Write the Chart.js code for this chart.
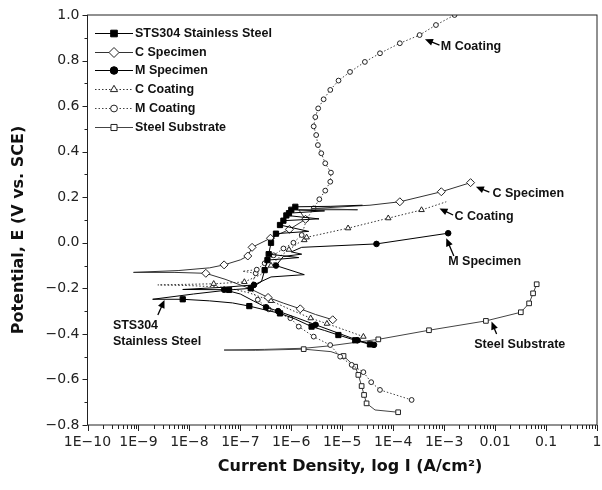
<!DOCTYPE html>
<html>
<head>
<meta charset="utf-8">
<script src="https://cdn.jsdelivr.net/npm/chart.js@4.4.1/dist/chart.umd.min.js"></script>
<style>
  html, body { margin: 0; padding: 0; background: #fff; }
  canvas { display: block; }
</style>
</head>
<body>
<canvas id="polChart" width="602" height="490"></canvas>
<script>
// axis ticks
const xTickValues = [1e-10, 1e-9, 1e-8, 1e-7, 1e-6, 1e-5, 1e-4, 1e-3, 0.01, 0.1, 1];
const xTickLabels = ['1E\u221210', '1E\u22129', '1E\u22128', '1E\u22127', '1E\u22126', '1E\u22125', '1E\u22124', '1E\u22123', '0.01', '0.1', '1'];
const yTickValues = [-0.8, -0.6, -0.4, -0.2, 0, 0.2, 0.4, 0.6, 0.8, 1.0];
const yTickLabels = ['\u22120.8', '\u22120.6', '\u22120.4', '\u22120.2', '0.0', '0.2', '0.4', '0.6', '0.8', '1.0'];

// STS304 stainless steel: current (A/cm2) and potential (V vs SCE)
const stsCurrent = [3.5e-5, 1.8e-5, 8.4e-6, 4.5e-6, 2.5e-6, 1.2e-6, 6e-7, 3.1e-7, 1.5e-7, 7e-8, 2.5e-8, 7.4e-9, 1.9e-9,
  1.2e-8, 6e-8, 1.6e-7, 2.6e-7, 3.0e-7, 3.4e-7, 1.4e-6, 3.6e-7, 4.0e-7, 5.0e-7, 2.2e-6, 6.0e-7, 7.0e-7, 3.5e-6,
  8.0e-7, 9.0e-7, 4.5e-6, 1.0e-6, 1.2e-6, 6.0e-6, 2.5e-5];
const stsPotential = [-0.446, -0.428, -0.405, -0.385, -0.368, -0.335, -0.31, -0.295, -0.278, -0.264, -0.255, -0.248, -0.248,
  -0.225, -0.207, -0.2, -0.17, -0.12, -0.076, -0.065, -0.05, 0.0, 0.04, 0.05, 0.078, 0.097, 0.105,
  0.12, 0.13, 0.14, 0.145, 0.158, 0.16, 0.165];

// C specimen
const cSpecCurrent = [6.5e-6, 3.0e-6, 1.5e-6, 7.0e-7, 3.5e-7, 1.5e-7, 5.0e-8, 2.1e-8, 5.0e-9, 8.0e-10, 6.0e-9, 2.5e-8,
  4.8e-8, 1.0e-7, 1.4e-7, 1.7e-7, 3.9e-7, 9.2e-7, 1.9e-6, 1.4e-6, 2.0e-5, 2.5e-6, 3.5e-5, 1.35e-4, 8.8e-4, 3.3e-3];
const cSpecPotential = [-0.338, -0.315, -0.29, -0.265, -0.24, -0.2, -0.16, -0.134, -0.13, -0.13, -0.122, -0.11,
  -0.097, -0.075, -0.058, -0.02, 0.02, 0.059, 0.103, 0.145, 0.145, 0.15, 0.165, 0.18, 0.224, 0.264];

// M specimen
const mSpecCurrent = [4.2e-5, 2.0e-5, 8.0e-6, 3.0e-6, 1.3e-6, 5.5e-7, 3.2e-7, 1.8e-7, 1.0e-7, 4.8e-8, 7.4e-9,
  5.0e-8, 1.85e-7, 4.0e-7, 1.8e-6, 5.0e-7, 7.0e-7, 1.6e-6, 1.0e-6, 1.6e-6, 4.7e-5, 1.2e-3];
const mSpecPotential = [-0.448, -0.428, -0.395, -0.36, -0.33, -0.3, -0.283, -0.255, -0.225, -0.206, -0.205,
  -0.195, -0.185, -0.15, -0.14, -0.1, -0.06, -0.05, -0.04, -0.02, -0.005, 0.042];

// C coating
const cCoatCurrent = [2.6e-5, 1.2e-5, 5.0e-6, 2.4e-6, 1.0e-6, 4.0e-7, 1.5e-7, 5.0e-8, 1.0e-8, 2.4e-9, 3.0e-8, 1.2e-7,
  2.5e-7, 4.0e-7, 6.0e-7, 9.0e-7, 1.4e-6, 1.8e-6, 2.0e-6, 1.3e-5, 8.0e-5, 3.6e-4, 1.1e-3];
const cCoatPotential = [-0.412, -0.385, -0.355, -0.331, -0.295, -0.255, -0.22, -0.195, -0.188, -0.185, -0.18, -0.172,
  -0.14, -0.1, -0.06, -0.03, 0.0, 0.012, 0.024, 0.064, 0.108, 0.144, 0.18];

// M coating
const mCoatCurrent = [2.3e-4, 5.5e-5, 3.7e-5, 2.6e-5, 1.53e-5, 9.1e-6, 5.8e-6, 2.75e-6, 1.4e-6, 9.6e-7, 3.6e-7, 2.2e-7,
  1.6e-7, 2.0e-7, 1.1e-7, 2.1e-7, 3.0e-7, 4.5e-7, 7.0e-7, 1.1e-6, 1.6e-6, 2.0e-6, 2.75e-6, 3.55e-6, 4.64e-6,
  5.82e-6, 6.0e-6, 4.64e-6, 3.88e-6, 3.33e-6, 3.08e-6, 2.75e-6, 2.96e-6, 3.37e-6, 4.31e-6, 5.82e-6, 8.45e-6,
  1.42e-5, 2.78e-5, 5.5e-5, 1.35e-4, 3.3e-4, 6.9e-4, 1.6e-3];
const mCoatPotential = [-0.69, -0.646, -0.612, -0.568, -0.536, -0.5, -0.449, -0.412, -0.368, -0.331, -0.292, -0.25,
  -0.2, -0.134, -0.125, -0.118, -0.09, -0.055, -0.025, 0.0, 0.034, 0.104, 0.151, 0.191, 0.229,
  0.268, 0.308, 0.349, 0.393, 0.429, 0.473, 0.511, 0.552, 0.59, 0.63, 0.671, 0.712,
  0.75, 0.794, 0.832, 0.876, 0.912, 0.956, 1.0];

// steel substrate
const steelCurrent = [1.25e-4, 4.4e-5, 3.0e-5, 2.68e-5, 2.4e-5, 2.07e-5, 1.79e-5, 1.06e-5, 6.0e-6, 1.75e-6, 2.0e-7,
  4.8e-8, 3.0e-7, 1.8e-6, 5.4e-6, 5.1e-5, 5.04e-4, 6.6e-3, 3.2e-2, 4.65e-2, 5.56e-2, 6.55e-2];
const steelPotential = [-0.744, -0.734, -0.705, -0.668, -0.629, -0.58, -0.544, -0.497, -0.478, -0.467, -0.472,
  -0.471, -0.468, -0.463, -0.453, -0.424, -0.384, -0.343, -0.305, -0.266, -0.222, -0.182];

const pairs = (xs, ys) => xs.map((x, i) => ({ x: x, y: ys[i] }));

// labels with arrows, placed in data coordinates
const callouts = [
  { lines: ['M Coating'], at: [8.6e-4, 0.861], tip: [4.2e-4, 0.893], tail: [8.1e-4, 0.868] },
  { lines: ['C Specimen'], at: [8.9e-3, 0.217], tip: [4.2e-3, 0.246], tail: [7.7e-3, 0.222] },
  { lines: ['C Coating'], at: [1.6e-3, 0.115], tip: [8.1e-4, 0.151], tail: [1.5e-3, 0.122] },
  { lines: ['M Specimen'], at: [1.2e-3, -0.083], tip: [1.1e-3, 0.02], tail: [1.55e-3, -0.058] },
  { lines: ['Steel Substrate'], at: [3.9e-3, -0.446], tip: [8.5e-3, -0.346], tail: [1.07e-2, -0.40] },
  { lines: ['STS304', 'Stainless Steel'], at: [3.15e-10, -0.365], tip: [3.25e-9, -0.251], tail: [2.4e-9, -0.317] }
];

const labelFont = "bold 12.5px 'Liberation Sans', Arial, sans-serif";

const frameAndDecor = {
  id: 'frameAndDecor',
  afterDatasetsDraw(chart) {
    const { ctx, chartArea: a, scales: { x, y } } = chart;
    ctx.save();
    // frame
    ctx.strokeStyle = '#222';
    ctx.lineWidth = 1;
    ctx.strokeRect(a.left, a.top, a.right - a.left, a.bottom - a.top);

    // tick marks
    ctx.beginPath();
    for (let e = -10; e <= 0; e++) {
      for (let k = 1; k <= 9; k++) {
        const v = k * Math.pow(10, e);
        if (v > 1.0000001) break;
        const px = Math.round(x.getPixelForValue(v)) + 0.5;
        ctx.moveTo(px, a.bottom);
        ctx.lineTo(px, a.bottom + (k === 1 ? 6 : 4));
      }
    }
    for (let i = 0; i <= 18; i++) {
      const v = -0.8 + i * 0.1;
      const py = Math.round(y.getPixelForValue(v)) + 0.5;
      ctx.moveTo(a.left, py);
      ctx.lineTo(a.left - (i % 2 === 0 ? 5 : 3), py);
    }
    ctx.stroke();

    // axis titles
    ctx.fillStyle = '#111';
    ctx.font = "bold 16px 'DejaVu Sans', sans-serif";
    ctx.textAlign = 'center';
    ctx.textBaseline = 'middle';
    ctx.fillText('Current Density, log I (A/cm\u00B2)', 350, 467);
    ctx.save();
    ctx.translate(19, 230);
    ctx.rotate(-Math.PI / 2);
    ctx.fillText('Potential, E (V vs. SCE)', 0, 0);
    ctx.restore();

    // legend
    ctx.font = labelFont;
    ctx.textAlign = 'left';
    chart.data.datasets.forEach((ds, i) => {
      const cy = Math.round(33 + i * 18.7) + 0.5;
      ctx.save();
      ctx.strokeStyle = ds.borderColor;
      ctx.lineWidth = 1;
      ctx.setLineDash(ds.borderDash || []);
      ctx.beginPath();
      ctx.moveTo(95, cy);
      ctx.lineTo(133, cy);
      ctx.stroke();
      ctx.setLineDash([]);
      ctx.fillStyle = ds.pointBackgroundColor;
      ctx.strokeStyle = ds.pointBorderColor;
      ctx.lineWidth = 1;
      Chart.helpers.drawPoint(ctx, { pointStyle: ds.pointStyle, radius: ds.markSize + 1, rotation: 0, borderWidth: 1 }, 114, cy);
      ctx.restore();
      ctx.fillStyle = '#111';
      ctx.fillText(ds.label, 135, cy);
    });

    // callouts with arrows
    callouts.forEach(c => {
      const tx = x.getPixelForValue(c.tip[0]), ty = y.getPixelForValue(c.tip[1]);
      const sx = x.getPixelForValue(c.tail[0]), sy = y.getPixelForValue(c.tail[1]);
      const ang = Math.atan2(ty - sy, tx - sx);
      ctx.strokeStyle = '#000';
      ctx.fillStyle = '#000';
      ctx.lineWidth = 1.3;
      ctx.beginPath();
      ctx.moveTo(sx, sy);
      ctx.lineTo(tx - 5 * Math.cos(ang), ty - 5 * Math.sin(ang));
      ctx.stroke();
      ctx.beginPath();
      ctx.moveTo(tx, ty);
      ctx.lineTo(tx - 8 * Math.cos(ang) + 3.5 * Math.sin(ang), ty - 8 * Math.sin(ang) - 3.5 * Math.cos(ang));
      ctx.lineTo(tx - 8 * Math.cos(ang) - 3.5 * Math.sin(ang), ty - 8 * Math.sin(ang) + 3.5 * Math.cos(ang));
      ctx.closePath();
      ctx.fill();
      const lx = x.getPixelForValue(c.at[0]), ly = y.getPixelForValue(c.at[1]);
      ctx.fillStyle = '#111';
      c.lines.forEach((t, j) => ctx.fillText(t, lx, ly + j * 15.7));
    });
    ctx.restore();
  }
};

const datasets = [
  { label: 'STS304 Stainless Steel', data: pairs(stsCurrent, stsPotential),
    borderColor: '#000', pointStyle: 'rect', markSize: 3.7, pointBackgroundColor: '#000', pointBorderColor: '#000',
    borderDash: [], plain: [3, 5, 7, 9, 10, 12, 13, 16, 19, 23, 26, 29, 32, 33] },
  { label: 'C Specimen', data: pairs(cSpecCurrent, cSpecPotential),
    borderColor: '#333', pointStyle: 'rectRot', markSize: 4, pointBackgroundColor: '#fff', pointBorderColor: '#222',
    borderDash: [], plain: [1, 3, 5, 6, 8, 9, 10, 11, 13, 19, 20, 21, 22] },
  { label: 'M Specimen', data: pairs(mSpecCurrent, mSpecPotential),
    borderColor: '#000', pointStyle: 'circle', markSize: 2.8, pointBackgroundColor: '#000', pointBorderColor: '#000',
    borderDash: [], plain: [2, 4, 7, 8, 10, 11, 13, 14, 16, 17, 18, 19] },
  { label: 'C Coating', data: pairs(cCoatCurrent, cCoatPotential),
    borderColor: '#333', pointStyle: 'triangle', markSize: 3.2, pointBackgroundColor: '#fff', pointBorderColor: '#222',
    borderDash: [1.5, 2], plain: [1, 4, 6, 7, 8, 9, 12, 14, 16, 22] },
  { label: 'M Coating', data: pairs(mCoatCurrent, mCoatPotential),
    borderColor: '#444', pointStyle: 'circle', markSize: 2.4, pointBackgroundColor: '#fff', pointBorderColor: '#222',
    borderDash: [1.5, 2], plain: [14] },
  { label: 'Steel Substrate', data: pairs(steelCurrent, steelPotential),
    borderColor: '#444', pointStyle: 'rect', markSize: 3.3, pointBackgroundColor: '#fff', pointBorderColor: '#222',
    borderDash: [], plain: [1, 8, 10, 11, 12, 13, 14] }
];

new Chart(document.getElementById('polChart'), {
  type: 'scatter',
  data: { datasets: datasets.map(d => Object.assign({ showLine: true, borderWidth: 1, pointBorderWidth: 1 }, d)) },
  options: {
    responsive: false,
    animation: false,
    events: [],
    layout: { padding: { top: 15, right: 2, left: 0, bottom: 0 } },
    elements: {
      line: { tension: 0 },
      point: { radius: ctx => (ctx.dataset.plain.includes(ctx.dataIndex) ? 0 : ctx.dataset.markSize) }
    },
    plugins: { legend: { display: false }, tooltip: { enabled: false } },
    scales: {
      x: {
        type: 'logarithmic', min: 1e-10, max: 1,
        grid: { display: false, drawTicks: false },
        border: { display: false },
        afterBuildTicks: s => { s.ticks = xTickValues.map(v => ({ value: v })); },
        afterFit: s => { s.height = 65; s.paddingLeft = 0; s.paddingRight = 0; },
        ticks: {
          autoSkip: false, maxRotation: 0, padding: 9, color: '#222',
          font: { family: "'DejaVu Sans', sans-serif", size: 14 },
          callback: (v, i) => xTickLabels[i]
        }
      },
      y: {
        min: -0.8, max: 1.0,
        grid: { display: false, drawTicks: false },
        border: { display: false },
        afterBuildTicks: s => { s.ticks = yTickValues.map(v => ({ value: v })); },
        afterFit: s => { s.width = 87.5; s.paddingTop = 0; s.paddingBottom = 0; },
        ticks: {
          autoSkip: false, padding: 8, color: '#222',
          font: { family: "'DejaVu Sans', sans-serif", size: 14 },
          callback: (v, i) => yTickLabels[i]
        }
      }
    }
  },
  plugins: [frameAndDecor]
});
</script>
</body>
</html>
